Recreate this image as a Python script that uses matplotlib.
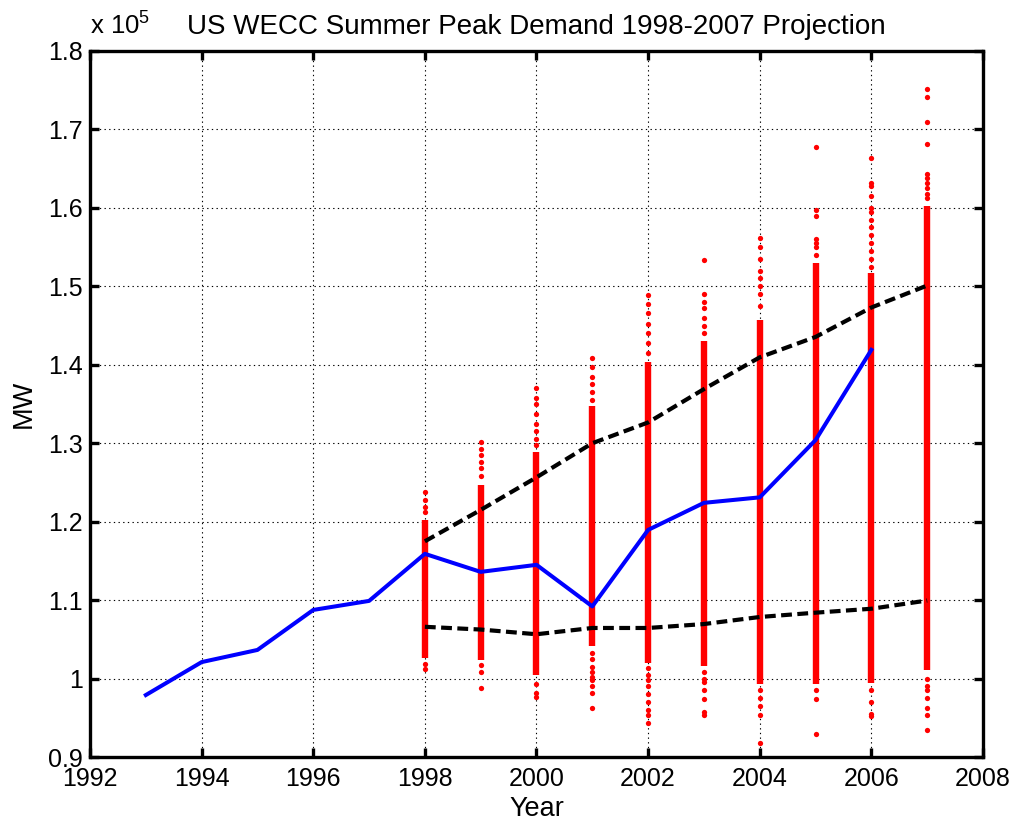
import matplotlib
matplotlib.use('Agg')
import matplotlib.pyplot as plt
from matplotlib.ticker import FuncFormatter, MultipleLocator

plt.rcParams['font.family'] = ['Liberation Sans', 'DejaVu Sans']
plt.rcParams['mathtext.fontset'] = 'custom'
plt.rcParams['mathtext.rm'] = 'Liberation Sans'

# historical peak demand (MW)
hist_years = [1993, 1994, 1995, 1996, 1997, 1998, 1999, 2000, 2001, 2002, 2003, 2004, 2005, 2006]
hist_mw = [97900, 102100, 103650, 108750, 109900, 115900, 113600, 114500, 109200,
           118950, 122400, 123100, 130400, 141900]

# projection bounds (MW)
proj_years = [1998, 1999, 2000, 2001, 2002, 2003, 2004, 2005, 2006, 2007]
upper_mw = [117500, 121500, 125650, 130000, 132650, 136900, 140950, 143550, 147300, 150100]
lower_mw = [106600, 106250, 105650, 106450, 106450, 106950, 107850, 108400, 108900, 109950]

# simulated samples: dense part of each column, then the loose points around it
band_hi = [120200, 124700, 128900, 134700, 140300, 143000, 145700, 153000, 151700, 160200]
band_lo = [102600, 102400, 100500, 104100, 102000, 101600, 99300, 99300, 99400, 101100]
loose_pts = [
    [123800, 122800, 121900, 121200, 101900, 101200],
    [130100, 129300, 128500, 127600, 126800, 125800, 101700, 100900, 98800],
    [137000, 135800, 135000, 133700, 132500, 131500, 130500, 129800, 99300, 98100, 97600],
    [140850, 139700, 138500, 137500, 136500, 135500, 103300, 102500, 101500, 100900,
     100200, 99800, 99000, 98200, 96200],
    [148900, 147800, 146600, 145200, 144000, 142800, 141500, 101300, 100500, 99800,
     99000, 98000, 97000, 96000, 95300, 94300],
    [153300, 149000, 148000, 147300, 146000, 145000, 144000, 100800, 100000, 99500,
     98500, 97400, 95800, 95400],
    [156200, 155000, 153500, 152000, 151000, 150000, 149000, 147500, 98500, 97500,
     96500, 95400, 91800],
    [167700, 159700, 159000, 156000, 155500, 155000, 154000, 98500, 97400, 92900],
    [166400, 163200, 162800, 161500, 160000, 159500, 158500, 157500, 156500, 155500,
     154500, 153500, 152500, 98500, 97050, 95500, 95200],
    [175100, 174100, 171000, 168200, 164300, 163800, 163200, 162500, 161800, 161200,
     100000, 99000, 98500, 97500, 96200, 95350, 93450],
]


def main():
    fig = plt.figure(figsize=(10.16, 8.25), dpi=100)
    ax = fig.add_axes([0.0886, 0.0824, 0.8789, 0.8558])

    # red sample columns
    ax.vlines(proj_years, band_lo, band_hi, colors='#ff0000', linewidth=4.6, zorder=2)
    for yr, pts in zip(proj_years, loose_pts):
        ax.plot([yr] * len(pts), pts, linestyle='none', marker='o', markersize=3.8,
                markeredgewidth=0, color='#ff0000', zorder=2)

    ax.plot(hist_years, hist_mw, color='#0000ff', linewidth=2.9, zorder=3)
    ax.plot(proj_years, upper_mw, color='black', linewidth=3.0,
            linestyle=(0, (2.6, 1.3)), zorder=4)
    ax.plot(proj_years, lower_mw, color='black', linewidth=3.0,
            linestyle=(0, (2.6, 1.3)), zorder=4)

    ax.set_xlim(1992, 2008)
    ax.set_ylim(90000, 180000)
    ax.xaxis.set_major_locator(MultipleLocator(2))
    ax.yaxis.set_major_locator(MultipleLocator(10000))
    ax.yaxis.set_major_formatter(FuncFormatter(lambda v, p: f'{v / 1e5:g}'))

    ax.grid(True, color='black', linewidth=0.8, linestyle=(0, (1.2, 3.0)))
    ax.set_axisbelow(True)
    for sp in ax.spines.values():
        sp.set_linewidth(2.4)
    ax.tick_params(direction='in', top=True, right=True, length=6.5, width=2.4,
                   labelsize=18, pad=5)
    ax.tick_params(axis='x', pad=7)

    ax.set_title('US WECC Summer Peak Demand 1998-2007 Projection', fontsize=20, pad=12)
    ax.set_xlabel('Year', fontsize=19.5, labelpad=4)
    ax.set_ylabel('MW', fontsize=19.5, labelpad=8)
    ax.text(0.0, 1.024, r'x 10$^{5}$', transform=ax.transAxes, fontsize=18.5,
            ha='left', va='baseline')

    fig.savefig('out.png', dpi=100)


if __name__ == '__main__':
    main()
